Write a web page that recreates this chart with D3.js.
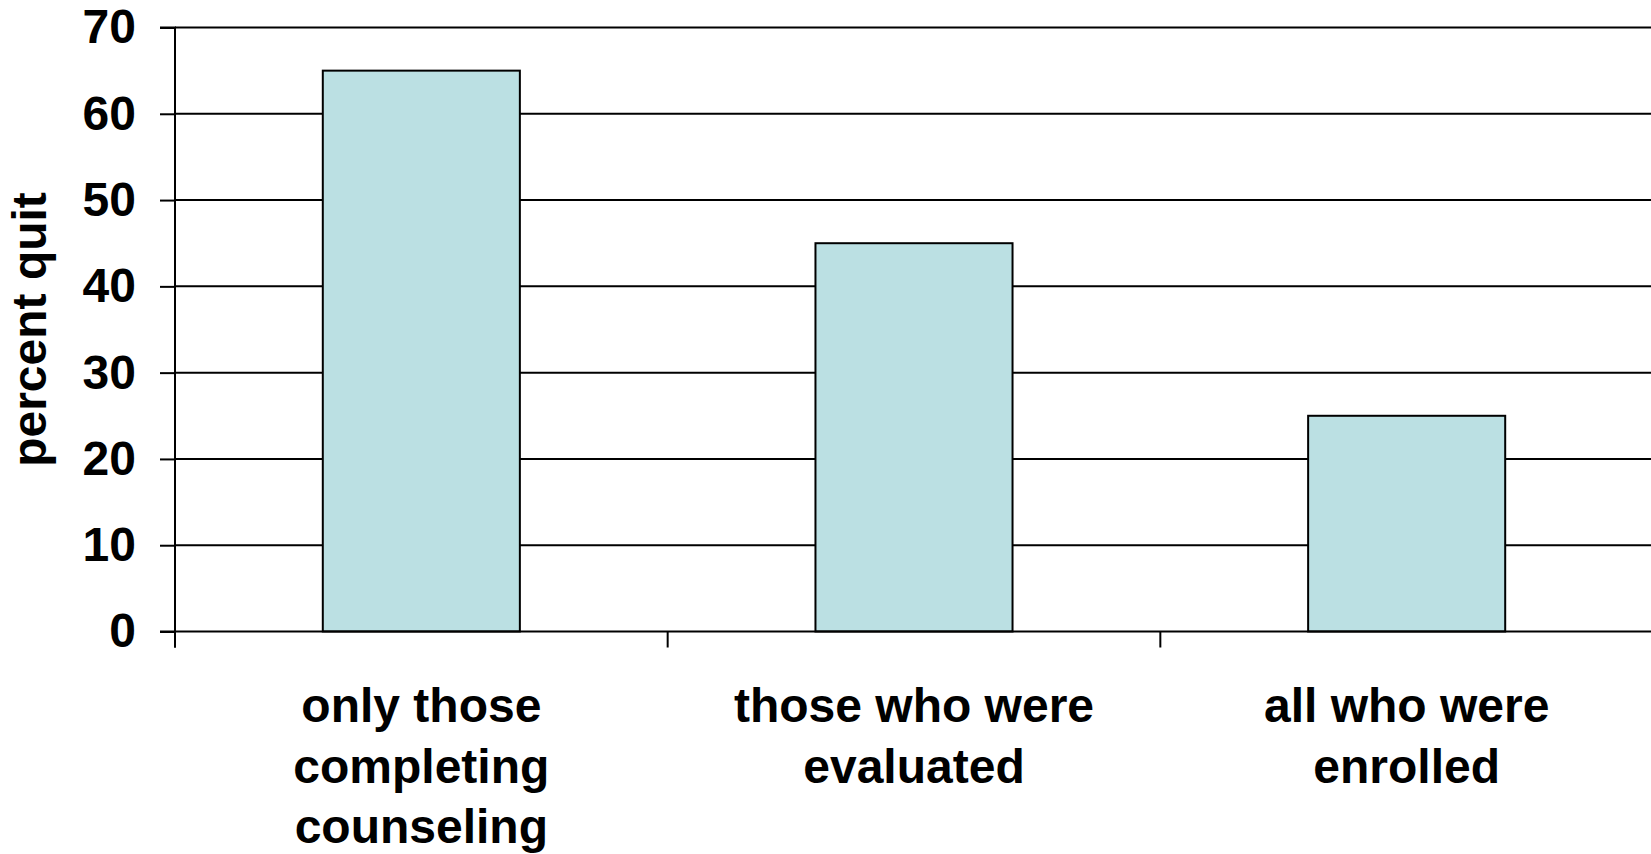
<!DOCTYPE html>
<html>
<head>
<meta charset="utf-8">
<script src="https://cdn.jsdelivr.net/npm/d3@7"></script>
<style>
  html, body { margin: 0; padding: 0; background: #ffffff; }
  svg { display: block; }
  text { font-family: "Liberation Sans", Arial, Helvetica, sans-serif; font-weight: bold; fill: #000; }
</style>
</head>
<body>
<svg id="chart" width="1651" height="854"></svg>
<script>
// Categories (each label split onto its display lines)
const categories = ["only those completing counseling", "those who were evaluated", "all who were enrolled"];
const categoryLines = [
  ["only those", "completing", "counseling"],
  ["those who were", "evaluated"],
  ["all who were", "enrolled"]
];
// Percent who quit in each group
const percentQuit = [65, 45, 25];
// Value axis ticks
const yTicks = [0, 10, 20, 30, 40, 50, 60, 70];
const yTitle = "percent quit";

const svg = d3.select("#chart");
const W = 1651;
const plot = { left: 175, right: 1653, top: 27.5, bottom: 631.5 };
const fontSize = 48;

const x = d3.scaleBand().domain(categories).range([plot.left, plot.right]).padding(0);
const y = d3.scaleLinear().domain([0, 70]).range([plot.bottom, plot.top]);
const barW = x.bandwidth() * 0.4;

// Horizontal gridlines
svg.append("g")
  .selectAll("line")
  .data(yTicks.filter(t => t > 0))
  .join("line")
  .attr("x1", plot.left).attr("x2", W)
  .attr("y1", d => y(d)).attr("y2", d => y(d))
  .attr("stroke", "#000").attr("stroke-width", 2);

// Bars
svg.append("g")
  .selectAll("rect")
  .data(categories)
  .join("rect")
  .attr("x", d => x(d) + (x.bandwidth() - barW) / 2)
  .attr("y", (d, i) => y(percentQuit[i]))
  .attr("width", barW)
  .attr("height", (d, i) => y(0) - y(percentQuit[i]))
  .attr("fill", "#bbe0e3")
  .attr("stroke", "#000")
  .attr("stroke-width", 2);

// Value axis
const yAxis = svg.append("g")
  .attr("transform", `translate(${plot.left},0)`)
  .call(d3.axisLeft(y).tickValues(yTicks).tickSize(15).tickPadding(24).tickFormat(d3.format("d")));
yAxis.select(".domain").attr("stroke", "#000").attr("stroke-width", 2)
  .attr("d", `M-15,${y(70)}H0V${y(0) + 16}`);
yAxis.selectAll(".tick line").attr("stroke", "#000").attr("stroke-width", 2);
yAxis.selectAll(".tick text")
  .attr("font-size", fontSize)
  .attr("font-family", "'Liberation Sans', Arial, sans-serif")
  .attr("font-weight", "bold")
  .attr("dy", "0.32em")
  .attr("fill", "#000");

// Category axis baseline and boundary ticks
svg.append("line")
  .attr("x1", plot.left - 15).attr("x2", W)
  .attr("y1", y(0)).attr("y2", y(0))
  .attr("stroke", "#000").attr("stroke-width", 2);
svg.append("g")
  .selectAll("line")
  .data(categories)
  .join("line")
  .attr("x1", d => x(d)).attr("x2", d => x(d))
  .attr("y1", y(0)).attr("y2", y(0) + 16)
  .attr("stroke", "#000").attr("stroke-width", 2);

// Category labels
const labels = svg.append("g")
  .selectAll("text")
  .data(categories)
  .join("text")
  .attr("text-anchor", "middle")
  .attr("font-size", fontSize)
  .attr("y", 722);
labels.selectAll("tspan")
  .data((d, i) => categoryLines[i].map(line => ({ line, cx: x(d) + x.bandwidth() / 2 })))
  .join("tspan")
  .attr("x", d => d.cx)
  .attr("dy", (d, j) => j === 0 ? 0 : 60.5)
  .text(d => d.line);

// Value axis title
svg.append("text")
  .attr("transform", `translate(46,${(y(0) + y(70)) / 2}) rotate(-90)`)
  .attr("text-anchor", "middle")
  .attr("font-size", fontSize)
  .text(yTitle);
</script>
</body>
</html>
